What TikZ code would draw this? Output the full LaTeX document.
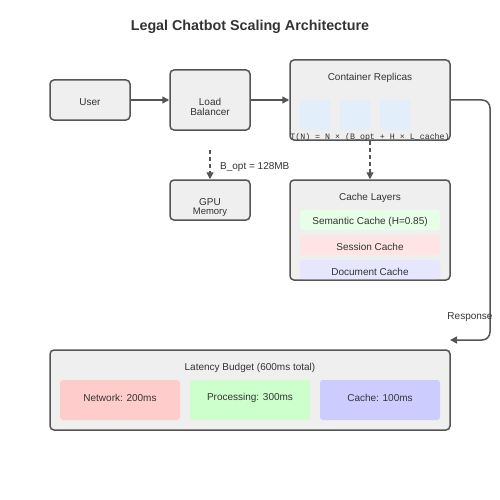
\documentclass[tikz,border=0pt]{standalone}
\usepackage{fontspec}
\setmainfont{Liberation Sans}
\setmonofont{Liberation Mono}
\usetikzlibrary{arrows.meta}
\definecolor{boxfill}{HTML}{EFEFEF}
\definecolor{boxline}{HTML}{555555}
\definecolor{txt}{HTML}{333333}
\definecolor{repl}{HTML}{E3EEFB}
\definecolor{semc}{HTML}{E6FFE6}
\definecolor{sesc}{HTML}{FFE4E4}
\definecolor{docc}{HTML}{E6E6FF}
\definecolor{netc}{HTML}{FFCCCC}
\definecolor{proc}{HTML}{CCFFCC}
\definecolor{cachec}{HTML}{CCCCFF}
\tikzset{
  box/.style={draw=boxline, line width=1.5pt, fill=boxfill, rounded corners=4pt, inner sep=0pt},
  sub/.style={fill=#1, draw=none, rounded corners=3pt, inner sep=0pt},
  txtn/.style={text=txt, font=\fontsize{10}{12}\selectfont, inner sep=0pt},
  conn/.style={draw=boxline, line width=1.5pt, -{Triangle[length=7pt,width=7pt]}},
  dconn/.style={conn, dashed, dash pattern=on 4pt off 3pt, line width=1.3pt}
}
\begin{document}
\begin{tikzpicture}[x=1pt,y=-1pt]
\useasboundingbox (0,0) rectangle (500,500);
\node[font=\bfseries\fontsize{14.3}{16}\selectfont, text=txt] (title) at (250,27) {Legal Chatbot Scaling Architecture};

% top row
\node[box, minimum width=80pt, minimum height=40pt] (user) at (90,100) {};
\node[txtn] (usert) at (90,102) {User};
\node[box, minimum width=80pt, minimum height=60pt] (lb) at (210,100) {};
\node[txtn] (lbt1) at (210,102) {Load};
\node[txtn] (lbt2) at (210,112) {Balancer};
\node[box, minimum width=160pt, minimum height=80pt] (cont) at (370,100) {};
\node[txtn] (contt) at (370,77.5) {Container Replicas};
\node[sub=repl, minimum width=30pt, minimum height=30pt] (r1) at (315,115) {};
\node[sub=repl, minimum width=30pt, minimum height=30pt] (r2) at (355,115) {};
\node[sub=repl, minimum width=30pt, minimum height=30pt] (r3) at (395,115) {};
\node[txtn, font=\ttfamily\fontsize{8.3}{10}\selectfont] (formula) at (370,137) {T(N) = N × (B\_opt + H × L\_cache)};

% second row
\node[box, minimum width=80pt, minimum height=40pt] (gpu) at (210,200) {};
\node[txtn] (gput1) at (210,202) {GPU};
\node[txtn, font=\fontsize{9.5}{10}\selectfont] (gput2) at (210,212) {Memory};
\node[box, minimum width=160pt, minimum height=100pt] (cache) at (370,230) {};
\node[txtn] (cachet) at (370,197.5) {Cache Layers};
\node[sub=semc, minimum width=140pt, minimum height=20pt] (sem) at (370,220) {};
\node[txtn] (semt) at (370,221.5) {Semantic Cache (H=0.85)};
\node[sub=sesc, minimum width=140pt, minimum height=20pt] (ses) at (370,245) {};
\node[txtn] (sest) at (370,247) {Session Cache};
\node[sub=docc, minimum width=140pt, minimum height=19pt] (doc) at (370,269.5) {};
\node[txtn] (doct) at (370,272) {Document Cache};

% latency
\node[box, minimum width=400pt, minimum height=80pt] (lat) at (250,390) {};
\node[txtn] (latt) at (250,367.5) {Latency Budget (600ms total)};
\node[sub=netc, minimum width=120pt, minimum height=40pt] (net) at (120,400) {};
\node[txtn] (nett) at (120,397.5) {Network: 200ms};
\node[sub=proc, minimum width=120pt, minimum height=40pt] (proc) at (250,400) {};
\node[txtn] (proct) at (250,397.5) {Processing: 300ms};
\node[sub=cachec, minimum width=120pt, minimum height=40pt] (cch) at (380,400) {};
\node[txtn] (cct) at (380,397.5) {Cache: 100ms};

% connectors
\draw[conn] (user.east) -- (lb.west);
\draw[conn] (lb.east) -- (cont.west);
\coordinate (lbd) at (210,150);
\draw[dconn] (lbd) -- (gpu.north);
\node[txtn, anchor=west] (bopt) at (220,167) {B\_opt = 128MB};
\coordinate (cd) at (370,141);
\draw[dconn] (cd) -- (cache.north);
\coordinate (resp) at (450,340);
\draw[conn, rounded corners=8pt] (cont.east) -- (490,100) -- (490,340) -- (resp);
\node[txtn] (respt) at (470,317.5) {Response};
\end{tikzpicture}
\end{document}
